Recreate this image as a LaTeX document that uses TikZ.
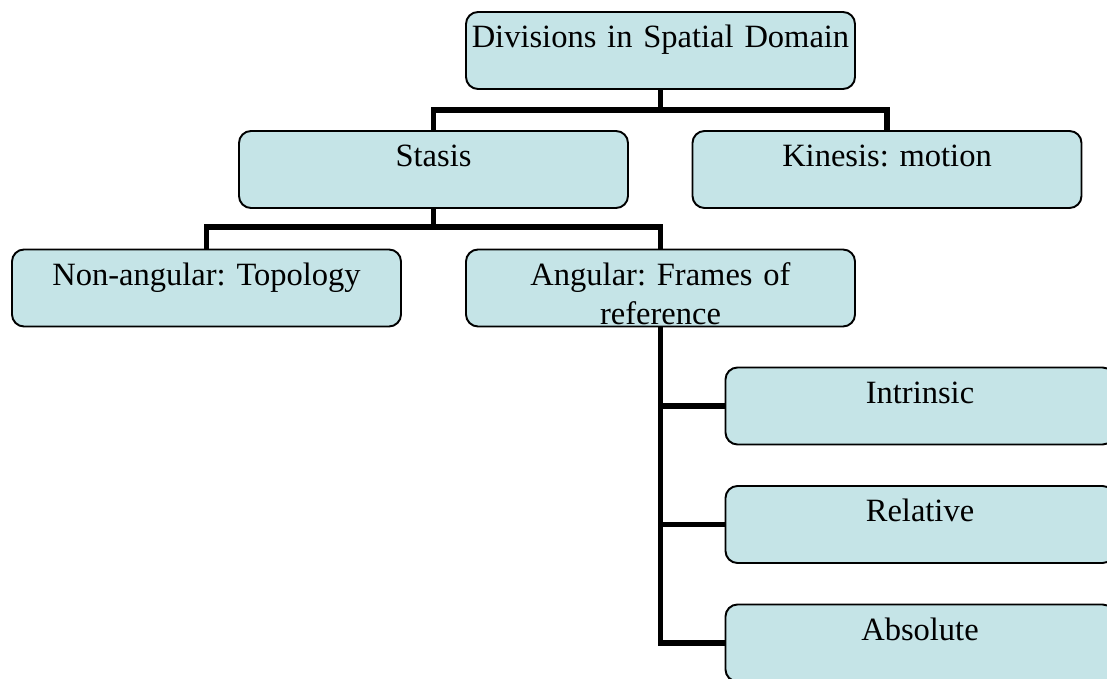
\documentclass[tikz,border=0pt]{standalone}
\usepackage{fontspec}
\setmainfont{Liberation Serif}
\frenchspacing
\definecolor{boxfill}{RGB}{197,228,231}
\begin{document}
\begin{tikzpicture}[box/.style={draw, fill=boxfill, line width=1.1pt, rounded corners=0.24cm, minimum width=7.78cm, text width=7.78cm, align=center, inner xsep=0pt, inner ysep=0pt, text height=0.72cm, text depth=0.82cm, font=\fontsize{18.5}{22}\selectfont},
link/.style={line width=3.4pt}]
\clip (0,0) rectangle (22.14,-13.58);
\node[box](top) at (13.21,-1.01){Divisions in Spatial Domain};
\node[box](stasis) at (8.67,-3.39){Stasis};
\node[box](kinesis) at (17.74,-3.39){Kinesis: motion};
\node[box](nonang) at (4.13,-5.76){Non-angular: Topology};
\node[box](angular) at (13.21,-5.76){Angular: Frames of\\reference};
\node[box](intrinsic) at (18.4,-8.12){Intrinsic};
\node[box](relative) at (18.4,-10.49){Relative};
\node[box](absolute) at (18.4,-12.86){Absolute};
\coordinate (bus1) at (13.21,-2.2);
\coordinate (bus2) at (8.67,-4.54);
\draw[link] (top.south) -- (bus1);
\draw[link] (stasis.north) |- (bus1) -| (kinesis.north);
\draw[link] (stasis.south) -- (bus2);
\draw[link] (nonang.north) |- (bus2) -| (angular.north);
\draw[link] (angular.south) |- (intrinsic.west);
\draw[link] (angular.south) |- (relative.west);
\draw[link] (angular.south) |- (absolute.west);
\end{tikzpicture}
\end{document}
